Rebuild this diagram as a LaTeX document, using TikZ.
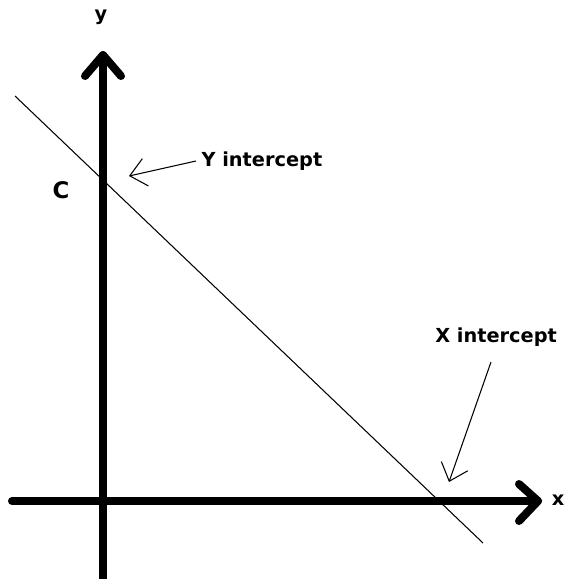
\documentclass[tikz,border=0pt]{standalone}
\usepackage{fontspec}
\setmainfont{DejaVu Sans}
\usetikzlibrary{arrows.meta}
\begin{document}
\begin{tikzpicture}[x=0.02cm,y=-0.02cm,
  axis/.style={line width=0.16cm,line cap=round,line join=round},
  pointer/.style={line width=0.6pt,-{Straight Barb[length=0.32cm,width=0.56cm]}},
  lbl/.style={font=\bfseries\fontsize{11}{13}\selectfont,inner sep=0pt}]
  \useasboundingbox (0,0) rectangle (565,579);
  % axes
  \coordinate (ybot) at (103,579); \coordinate (ytop) at (103,55);
  \coordinate (xleft) at (12,501); \coordinate (xright) at (538,501);
  \draw[axis] (ybot) -- (ytop);
  \draw[axis] (85,76) -- (ytop) -- (121,76);
  \draw[axis] (xleft) -- (xright);
  \draw[axis] (519,484) -- (xright) -- (519,521);
  \node[lbl] (ylbl) at (101,17) {y};
  \node[lbl] (xlbl) at (558,500) {x};
  % the line
  \coordinate (lstart) at (15,96); \coordinate (lend) at (483,543);
  \draw[line width=0.6pt] (lstart) -- (lend);
  \node[lbl,font=\bfseries\fontsize{13}{15}\selectfont] (c) at (61,190) {C};
  % intercept labels
  \node[lbl,anchor=west,inner xsep=3pt] (yint) at (196,161) {Y intercept};
  \coordinate (ytip) at (129,176);
  \draw[pointer] (yint.west) -- (ytip);
  \node[lbl,anchor=west] (xint) at (435,337) {X intercept};
  \coordinate (xtail) at (491,362); \coordinate (xtip) at (449,482);
  \draw[pointer] (xtail) -- (xtip);
\end{tikzpicture}
\end{document}
